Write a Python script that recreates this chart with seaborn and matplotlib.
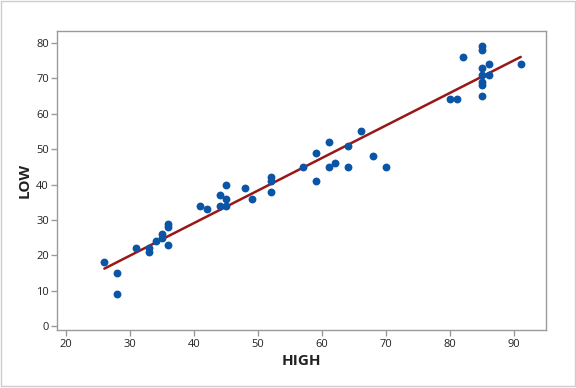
import seaborn as sns
import pandas as pd
import matplotlib.pyplot as plt
from matplotlib.patches import Rectangle

# Values
high = [26, 28, 28, 31, 33, 33, 34, 35, 35, 36, 36, 36,
        41, 42, 44, 44, 45, 45, 45, 48, 49, 52, 52, 52,
        57, 59, 59, 61, 61, 62, 64, 64, 66, 68, 70,
        80, 81, 82, 85, 85, 85, 85, 85, 85, 85, 86, 86, 91]
low = [18, 15, 9, 22, 22, 21, 24, 26, 25, 29, 28, 23,
       34, 33, 37, 34, 40, 36, 34, 39, 36, 42, 41, 38,
       45, 49, 41, 52, 45, 46, 51, 45, 55, 48, 45,
       64, 64, 76, 79, 78, 73, 71, 69, 68, 65, 74, 71, 74]

x_ticks = [20, 30, 40, 50, 60, 70, 80, 90]
y_ticks = [0, 10, 20, 30, 40, 50, 60, 70, 80]

df = pd.DataFrame({'HIGH': high, 'LOW': low})

point_color = '#0a55a5'
line_color = '#981818'
spine_color = '#9a9a9a'

sns.set_style("white")
plt.rcParams['font.family'] = ['Open Sans', 'DejaVu Sans']

fig = plt.figure(figsize=(5.76, 3.88), dpi=100)
ax = fig.add_axes([0.0995, 0.149, 0.849, 0.77])

sns.regplot(data=df, x='HIGH', y='LOW', ci=None, ax=ax, truncate=True,
            scatter_kws={'color': point_color, 's': 32, 'marker': 'o',
                         'linewidths': 0, 'alpha': 1, 'zorder': 3},
            line_kws={'color': line_color, 'linewidth': 1.8, 'zorder': 2})

ax.set_xlim(18.65, 95)
ax.set_ylim(-1.1, 83.2)
ax.set_xticks(x_ticks)
ax.set_yticks(y_ticks)
ax.tick_params(axis='both', which='major', direction='out', length=4, width=1,
               color=spine_color, labelsize=8, labelcolor='#222222', pad=2,
               bottom=True, left=True)
for s in ax.spines.values():
    s.set_color(spine_color)
    s.set_linewidth(1)

ax.set_xlabel('HIGH', fontsize=11, fontweight='bold', color='#222222', labelpad=3)
ax.set_ylabel('LOW', fontsize=11, fontweight='bold', color='#222222', labelpad=3)

# light border around the whole figure
fig.patches.append(Rectangle((0.002, 0.004), 0.996, 0.993, transform=fig.transFigure,
                             fill=False, edgecolor='#cccccc', linewidth=1))

plt.savefig('out.png', dpi=100)
